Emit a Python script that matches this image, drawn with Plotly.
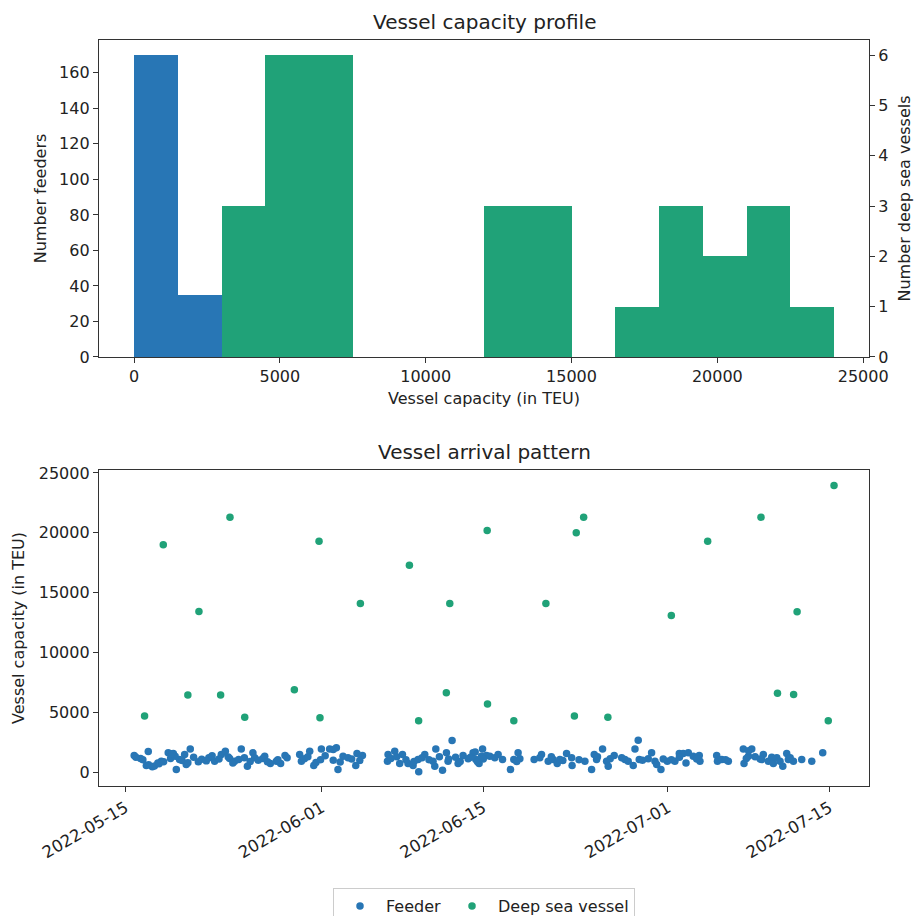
import pandas as pd
import plotly.graph_objects as go

# Arrival times are stored as days after 2022-05-15 00:00; capacities in TEU.
START = pd.Timestamp("2022-05-15")

feeder_day = [
    0.75, 1.30, 1.97, 1.80, 2.32, 2.80, 3.10, 3.70, 4.14, 4.40, 4.68, 5.12, 5.26, 5.61, 6.31,
    7.22, 7.72, 8.30, 8.65, 9.02, 9.45, 10.03, 10.56, 11.04, 11.19, 12.06, 12.55, 13.07, 13.44,
    13.82, 15.09, 15.24, 15.96, 16.31, 16.97, 17.69, 18.27, 18.41, 18.85, 19.28, 19.95, 20.06,
    20.53, 22.75, 22.70, 23.33, 24.00, 23.76, 24.48, 24.92, 25.41, 25.35, 25.93, 26.65, 26.89,
    26.80, 27.47, 27.81, 27.95, 28.30, 28.82,
    29.25, 29.69, 30.12, 30.36, 30.64, 30.94, 30.85, 31.28, 31.57, 32.29, 32.67, 33.36, 33.65,
    34.02, 34.17, 35.41, 36.05, 36.63, 37.06, 37.41, 37.64, 38.22, 38.66, 38.70, 39.81, 40.39,
    40.62, 40.82, 41.34, 41.69, 41.83, 42.35, 43.28, 43.56, 44.00, 44.15, 44.43, 44.52, 45.30,
    45.59, 45.88, 46.03, 46.40, 46.95, 47.61, 47.99, 48.33, 48.57, 48.77, 49.20, 49.72, 49.78,
    51.23, 51.30, 51.67, 52.24, 53.54, 53.60, 53.98, 54.27, 54.56, 55.27, 55.13, 55.71, 56.14,
    56.44, 56.72, 56.96, 57.30, 57.44, 57.88, 58.60, 59.47, 60.42,
    0.9, 1.5, 2.0, 2.5, 2.9, 3.3, 3.9, 4.3, 4.9, 5.4, 5.9, 6.6, 7.0, 7.5, 8.1, 8.9, 9.3, 9.8,
    10.3, 10.8, 11.5, 11.9, 12.3, 13.2, 14.0, 15.5, 15.8, 16.5, 16.9, 17.3, 18.0, 18.6, 19.6,
    20.3, 23.0, 23.5, 24.3, 25.0, 25.7, 26.3, 27.2, 28.0, 28.6, 29.0, 29.9, 30.5, 31.0, 32.0,
    33.9, 35.9, 36.9, 37.9, 39.3, 40.9, 42.0, 43.0, 44.8, 46.6, 47.3, 48.0, 49.5, 52.0, 53.8,
    55.0, 56.0, 57.6,
    4.0, 18.0, 30.3, 54.0,
]
feeder_teu = [
    1390, 1140, 1730, 560, 450, 780, 920, 1620, 1560, 230, 1060, 1480, 640, 1950, 870,
    1200, 920, 1480, 1760, 1140, 920, 1950, 500, 1620, 1200, 1340, 730, 920, 730,
    1390, 1480, 920, 1760, 560, 1950, 1950, 2040, 230, 1340, 1200, 560, 1560,
    1390, 1480, 920, 1760, 1480, 730, 730, 560, 50, 1060, 1480, 920, 1950,
    500, 170, 1620, 920, 2650, 730,
    1390, 1120, 1620, 1060, 730, 1950, 1340, 1390, 1340, 1480, 1060, 230, 1060,
    1620, 1120, 1060, 1480, 920, 1060, 730, 1060, 1560, 1200, 560, 920, 230,
    1480, 1060, 1950, 920, 500, 1390, 1060, 920, 560, 1950, 2670, 1060, 1120,
    1620, 920, 640, 230, 920, 920, 1560, 1560, 780, 1620, 1340, 1390, 920,
    1390, 920, 1060, 920, 1950, 730, 1340, 1950, 1290, 1480, 1060, 920, 730,
    1200, 920, 500, 1560, 1060, 920, 1060, 920, 1620,
    1250, 1050, 620, 520, 700, 880, 1150, 1330, 980, 800, 1250, 1080, 950, 1380, 1100, 1280, 780, 1060,
    1200, 900, 1000, 1150, 870, 1050, 1200, 1120, 1300, 820, 1050, 1380, 1000, 850, 1100,
    980, 1150, 1300, 1050, 900, 1200, 1050, 1300, 1100, 1250, 900, 1250, 880, 1100, 1200,
    900, 1200, 1300, 980, 1050, 1300, 1120, 1200, 1000, 1100, 1050, 1250, 1100, 1050, 1150,
    1100, 1250, 1200,
    1540, 1900, 1700, 1800,
]

deep_day = [
    1.65, 3.27, 5.40, 6.36, 8.24, 9.05, 10.33, 14.63, 16.77, 16.85, 20.35, 24.60, 25.40, 27.80,
    28.10, 31.34, 31.37, 33.65, 36.43, 38.90, 39.06, 39.70, 41.80, 47.30, 50.45, 55.07, 56.50,
    57.90, 58.20, 60.90, 61.40,
]
deep_teu = [
    4700, 19000, 6460, 13420, 6450, 21300, 4600, 6900, 19300, 4550, 14100, 17300, 4300, 6650,
    14100, 20200, 5700, 4300, 14100, 4700, 20000, 21300, 4600, 13100, 19300, 21300, 6600,
    6500, 13400, 4300, 23950,
]

capacity_ticks = [0, 5000, 10000, 15000, 20000, 25000]
feeder_count_ticks = [0, 20, 40, 60, 80, 100, 120, 140, 160]
deep_count_ticks = [0, 1, 2, 3, 4, 5, 6]
date_ticks = ["2022-05-15", "2022-06-01", "2022-06-15", "2022-07-01", "2022-07-15"]

BLUE = "#2876b5"
GREEN = "#20a278"
TEXT = "#222222"
FONT = "DejaVu Sans"

feeder_time = START + pd.to_timedelta(feeder_day, unit="D")
deep_time = START + pd.to_timedelta(deep_day, unit="D")

bins = dict(start=0, end=24000, size=1500)

fig = go.Figure()
fig.add_trace(go.Histogram(x=feeder_teu, xbins=bins, autobinx=False, marker_color=BLUE,
                           xaxis="x", yaxis="y", showlegend=False, hoverinfo="skip"))
fig.add_trace(go.Histogram(x=deep_teu, xbins=bins, autobinx=False, marker_color=GREEN,
                           xaxis="x", yaxis="y3", showlegend=False, hoverinfo="skip"))
fig.add_trace(go.Scatter(x=feeder_time, y=feeder_teu, mode="markers", name="Feeder",
                         marker=dict(color=BLUE, size=7.5), xaxis="x2", yaxis="y2"))
fig.add_trace(go.Scatter(x=deep_time, y=deep_teu, mode="markers", name="Deep sea vessel",
                         marker=dict(color=GREEN, size=7.5), xaxis="x2", yaxis="y2"))

axis_common = dict(showline=True, linecolor="#333333", linewidth=1.3, mirror=True,
                   ticks="outside", ticklen=5, tickwidth=1.2, tickcolor="#333333",
                   showgrid=False, zeroline=False, automargin=False, tickformat="d",
                   tickfont=dict(family=FONT, size=16, color=TEXT))
title_font = dict(family=FONT, size=16, color=TEXT)

fig.update_layout(
    width=914, height=916,
    margin=dict(l=99, r=45, t=40, b=130, autoexpand=False),
    paper_bgcolor="white", plot_bgcolor="white",
    barmode="overlay", bargap=0,
    font=dict(family=FONT, size=16, color=TEXT),
    xaxis=dict(axis_common, domain=[0, 1], anchor="y", range=[-1200, 25200],
               tickvals=capacity_ticks,
               title=dict(text="Vessel capacity (in TEU)", font=title_font, standoff=7)),
    yaxis=dict(axis_common, domain=[0.5751, 1], anchor="x", range=[0, 178.5],
               tickvals=feeder_count_ticks,
               title=dict(text="Number feeders", font=title_font, standoff=8)),
    yaxis3=dict(axis_common, overlaying="y", side="right", anchor="x", range=[0, 6.3],
                tickvals=deep_count_ticks, mirror=False,
                title=dict(text="Number deep sea vessels", font=title_font, standoff=20)),
    xaxis2=dict(axis_common, domain=[0, 1], anchor="y2",
                range=["2022-05-12 16:48", "2022-07-18 10:20"],
                tickvals=date_ticks, ticktext=date_ticks, tickangle=-30,
                tickfont=dict(family=FONT, size=16.5, color=TEXT)),
    yaxis2=dict(axis_common, domain=[0, 0.4236], anchor="x2", range=[-1150, 25250],
                tickvals=capacity_ticks,
                title=dict(text="Vessel capacity (in TEU)", font=title_font, standoff=10)),
    legend=dict(orientation="h", x=0.5, xanchor="center", y=-0.137, yanchor="top",
                bordercolor="#cccccc", borderwidth=1, bgcolor="white", itemwidth=42,
                font=dict(family=FONT, size=16, color=TEXT)),
    annotations=[
        dict(text="Vessel capacity profile", xref="paper", yref="paper", x=0.5, y=1.024,
             xanchor="center", yanchor="middle", showarrow=False,
             font=dict(family=FONT, size=20, color=TEXT)),
        dict(text="Vessel arrival pattern", xref="paper", yref="paper", x=0.5, y=0.4477,
             xanchor="center", yanchor="middle", showarrow=False,
             font=dict(family=FONT, size=20, color=TEXT)),
    ],
)

fig.write_html("out.html")
